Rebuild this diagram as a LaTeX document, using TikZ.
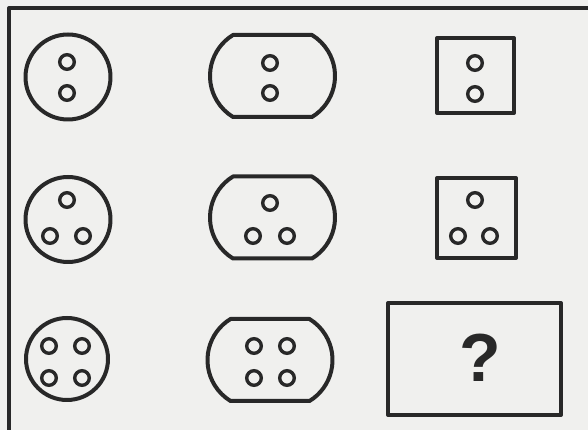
\documentclass[tikz,border=0pt]{standalone}
\usepackage{fontspec}
\setmainfont{Liberation Sans}
\definecolor{ink}{RGB}{40,40,40}
\definecolor{paper}{RGB}{240,240,238}
\tikzset{
  outline/.style={draw=ink, line width=4pt, line join=round},
  hole/.style={draw=ink, line width=3.4pt},
}
\newcommand{\hole}[2]{\draw[hole] (#1,#2) circle[radius=7.3];}
% oval: center x, center y
\newcommand{\ovalshape}[2]{%
  \pgfmathsetmacro{\oW}{62.5}\pgfmathsetmacro{\oH}{41}\pgfmathsetmacro{\oF}{39.5}%
  \pgfmathsetmacro{\oS}{\oW-\oF}%
  \pgfmathsetmacro{\oR}{(\oH*\oH+\oS*\oS)/(2*\oS)}%
  \pgfmathsetmacro{\oT}{asin(\oH/\oR)}%
  \draw[outline] ({#1-\oF},{#2+\oH}) arc[start angle={180-\oT}, end angle={180+\oT}, radius=\oR]
     -- ({#1+\oF},{#2-\oH}) arc[start angle={-\oT}, end angle={\oT}, radius=\oR] -- cycle;}
\begin{document}
\begin{tikzpicture}[x=1pt,y=1pt]
\fill[paper] (0,0) rectangle (588,430);
\useasboundingbox (0,0) rectangle (588,430);
% frame
\draw[outline] (9,0) -- (9,422) -- (588,422);
% row 1
\draw[outline] (68,353) circle[radius=42.5];
\hole{67}{368}\hole{67}{337}
\ovalshape{272.5}{354}
\hole{270}{367}\hole{270}{337}
\draw[outline] (437,392) rectangle (514,317);
\hole{475}{367}\hole{475}{336}
% row 2
\draw[outline] (68,210.5) circle[radius=42.5];
\hole{67}{230}\hole{50}{194}\hole{83}{194}
\ovalshape{272.5}{212.5}
\hole{270}{227}\hole{253}{194}\hole{287}{194}
\draw[outline] (437,252) rectangle (516,172);
\hole{475}{230}\hole{458}{194}\hole{490}{194}
% row 3
\draw[outline] (67,71) circle[radius=41];
\hole{49}{84}\hole{82}{84}\hole{49}{52}\hole{82}{52}
\ovalshape{270}{70}
\hole{254}{84}\hole{287}{84}\hole{254}{52}\hole{287}{52}
\draw[outline] (388,127) rectangle (561,15);
\node[text=ink, font=\fontsize{68}{68}\selectfont\bfseries, inner sep=0pt] (q) at (480,72) {?};
\end{tikzpicture}
\end{document}
